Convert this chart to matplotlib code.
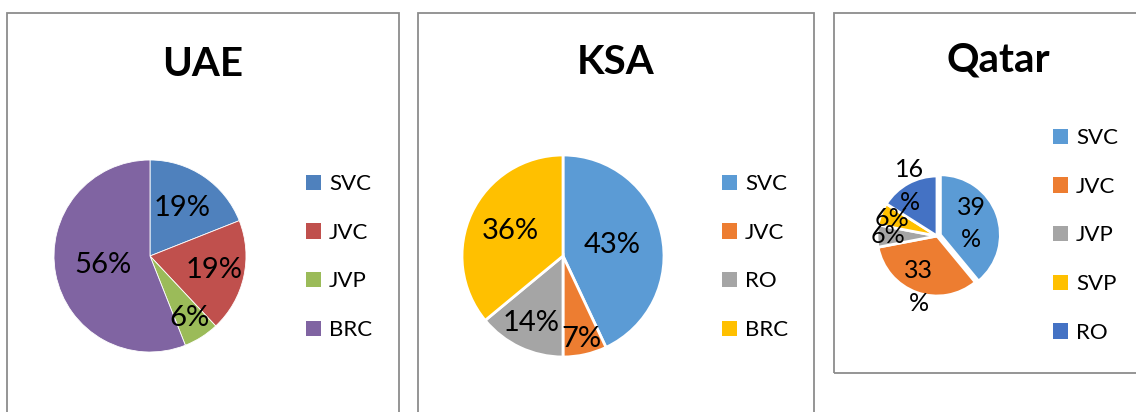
import matplotlib
matplotlib.use("Agg")
import numpy as np
from matplotlib import pyplot as plt
from matplotlib.patches import Rectangle, Patch

plt.rcParams['font.family'] = ['Lato', 'DejaVu Sans']

W, H = 1136, 412

# data
uae_labels = ['SVC', 'JVC', 'JVP', 'BRC']
uae_values = [19, 19, 6, 56]
uae_colors = ['#4F81BD', '#C0504D', '#9BBB59', '#8064A2']

ksa_labels = ['SVC', 'JVC', 'RO', 'BRC']
ksa_values = [43, 7, 14, 36]
ksa_colors = ['#5B9BD5', '#ED7D31', '#A5A5A5', '#FFC000']

qatar_labels = ['SVC', 'JVC', 'JVP', 'SVP', 'RO']
qatar_values = [39, 33, 6, 6, 16]
qatar_colors = ['#5B9BD5', '#ED7D31', '#A5A5A5', '#FFC000', '#4472C4']

fig = plt.figure(figsize=(W / 100, H / 100), dpi=100)


def px_box(x0, y0, x1, y1):
    # pixel box (top-left origin) -> figure fraction rect
    return [x0 / W, 1 - y1 / H, (x1 - x0) / W, (y1 - y0) / H]


def panel(x0, y0, x1, y1):
    r = Rectangle((x0 / W, 1 - y1 / H), (x1 - x0) / W, (y1 - y0) / H,
                  transform=fig.transFigure, fill=False, edgecolor='#8C8C8C',
                  linewidth=1.3, clip_on=False)
    fig.patches.append(r)


def draw_pie(cx, cy, R, values, colors, labels, dists, fsize, edge_lw,
             explode=None, wrap=False, leg_x=0, leg_y=0, title='', tx=0, ty=0):
    ax = fig.add_axes(px_box(cx - R, cy - R, cx + R, cy + R))
    wedges, _ = ax.pie(values, colors=colors, startangle=90, counterclock=False,
                       radius=1, explode=explode,
                       wedgeprops=dict(edgecolor='white', linewidth=edge_lw))
    for w, v, d in zip(wedges, values, dists):
        ang = np.deg2rad((w.theta1 + w.theta2) / 2)
        txt = f'{v}%'
        if wrap and v >= 10:
            txt = f'{v}\n%'
        ax.text(d * np.cos(ang) + w.center[0], d * np.sin(ang) + w.center[1], txt,
                ha='center', va='center', fontsize=fsize, color='black',
                linespacing=1.5)
    ax.set_xlim(-1, 1)
    ax.set_ylim(-1, 1)
    ax.set_aspect('equal')
    ax.axis('off')
    handles = [Patch(facecolor=c, edgecolor='none') for c in colors]
    fig.legend(handles, labels, loc='upper left',
               bbox_to_anchor=(leg_x / W, 1 - leg_y / H), frameon=False,
               fontsize=16, handlelength=0.68, handleheight=0.68,
               handletextpad=0.35, labelspacing=1.29, borderaxespad=0,
               borderpad=0)
    fig.text(tx / W, 1 - ty / H, title, ha='center', va='center',
             fontsize=29, fontweight='bold')


panel(7, 13, 399, 430)
panel(418, 13, 814, 430)
panel(834, 13, 1160, 373)

draw_pie(150, 256, 96, uae_values, uae_colors, uae_labels,
         [0.6, 0.68, 0.76, 0.5], 21, 0.6,
         leg_x=306, leg_y=174, title='UAE', tx=203, ty=65)

draw_pie(563, 256, 101, ksa_values, ksa_colors, ksa_labels,
         [0.5, 0.84, 0.73, 0.58], 21, 2,
         leg_x=722, leg_y=174, title='KSA', tx=616, ty=63)

draw_pie(937, 236, 60, qatar_values, qatar_colors, qatar_labels,
         [0.55, 0.9, 0.82, 0.8, 0.95], 18, 2,
         explode=[0.06, 0, 0, 0, 0], wrap=True,
         leg_x=1053, leg_y=128, title='Qatar', tx=998, ty=60)

fig.savefig('out.png', dpi=100, facecolor='white')
